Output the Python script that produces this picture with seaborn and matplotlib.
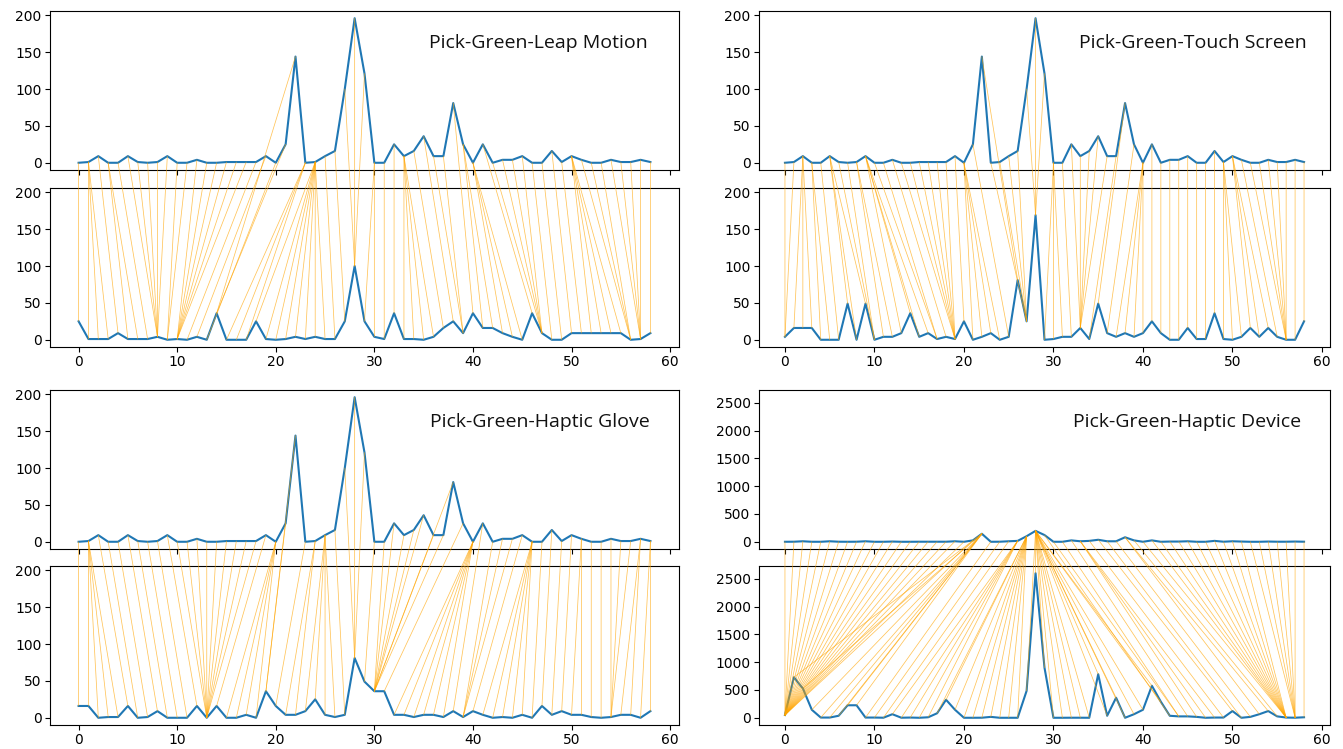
import numpy as np
import matplotlib
matplotlib.use("Agg")
import matplotlib.pyplot as plt
from matplotlib.patches import ConnectionPatch
from matplotlib.ticker import MaxNLocator
import seaborn as sns

# reference series (top of every pair)
reference = [0, 1, 9, 0, 0, 9, 1, 0, 1, 9, 0, 0, 4, 0, 0, 1, 1, 1, 1, 9,
             0, 25, 144, 0, 1, 9, 16, 100, 196, 121, 0, 0, 25, 9, 16, 36, 9, 9, 81, 25,
             0, 25, 0, 4, 4, 9, 0, 0, 16, 1, 9, 4, 0, 0, 4, 1, 1, 4, 1]

leap_motion = [25, 1, 1, 1, 9, 1, 1, 1, 4, 0, 1, 0, 4, 0, 36, 0, 0, 0, 25, 1,
               0, 1, 4, 1, 4, 1, 1, 25, 100, 25, 4, 1, 36, 1, 1, 0, 4, 16, 25, 9,
               36, 16, 16, 9, 4, 0, 36, 9, 0, 0, 9, 9, 9, 9, 9, 9, 0, 1, 9]

touch_screen = [4, 16, 16, 16, 0, 0, 0, 49, 0, 49, 0, 4, 4, 9, 36, 4, 9, 1, 4, 1,
                25, 0, 4, 9, 0, 4, 81, 25, 169, 0, 1, 4, 4, 16, 1, 49, 9, 4, 9, 4,
                9, 25, 9, 0, 0, 16, 1, 1, 36, 1, 0, 4, 16, 4, 16, 4, 0, 0, 25]

haptic_glove = [16, 16, 0, 1, 1, 16, 0, 1, 9, 0, 0, 0, 16, 0, 16, 0, 0, 4, 0, 36,
                16, 4, 4, 9, 25, 4, 1, 4, 81, 49, 36, 36, 4, 4, 1, 4, 4, 1, 9, 1,
                9, 4, 0, 1, 0, 4, 0, 16, 4, 9, 4, 4, 1, 0, 1, 4, 4, 0, 9]

haptic_device = [49, 729, 529, 144, 4, 4, 36, 225, 225, 4, 4, 1, 64, 1, 4, 0, 9, 81, 324, 144,
                 0, 0, 1, 16, 0, 0, 0, 484, 2601, 900, 0, 0, 1, 1, 0, 784, 36, 361, 0, 64,
                 144, 576, 289, 36, 25, 25, 16, 0, 4, 4, 121, 0, 16, 64, 121, 25, 4, 1, 9]

titles = ["Pick-Green-Leap Motion", "Pick-Green-Touch Screen",
          "Pick-Green-Haptic Glove", "Pick-Green-Haptic Device"]
queries = [leap_motion, touch_screen, haptic_glove, haptic_device]


def warping_path(s1, s2):
    s1 = np.asarray(s1, float)
    s2 = np.asarray(s2, float)
    n, m = len(s1), len(s2)
    D = np.full((n + 1, m + 1), np.inf)
    D[0, 0] = 0.0
    for i in range(n):
        for j in range(m):
            d = (s1[i] - s2[j]) ** 2
            D[i + 1, j + 1] = d + min(D[i, j], D[i, j + 1], D[i + 1, j])
    D = np.sqrt(D)
    i, j = n, m
    p = [(i - 1, j - 1)]
    while i > 0 and j > 0:
        c = int(np.argmin([D[i - 1, j - 1], D[i - 1, j], D[i, j - 1]]))
        if c == 0:
            i, j = i - 1, j - 1
        elif c == 1:
            i = i - 1
        else:
            j = j - 1
        p.append((i - 1, j - 1))
    p.pop()
    p.reverse()
    return p


W, H = 1343, 749
fig = plt.figure(figsize=(W / 100, H / 100), dpi=100)

cols = [(50, 679), (759, 1330)]
rows = [((11, 170), (188, 347)), ((390, 549), (566, 725))]
title_x = [0.951, 0.96, 0.954, 0.949]


def rect(xl, xr, yt, yb):
    return [xl / W, (H - yb) / H, (xr - xl) / W, (yb - yt) / H]


for k in range(4):
    r, c = divmod(k, 2)
    xl, xr = cols[c]
    (t1, b1), (t2, b2) = rows[r]
    ax1 = fig.add_axes(rect(xl, xr, t1, b1))
    ax2 = fig.add_axes(rect(xl, xr, t2, b2), sharex=ax1, sharey=ax1)
    s1 = reference
    s2 = queries[k]
    sns.lineplot(x=np.arange(len(s1)), y=s1, ax=ax1, color="#1f77b4", lw=1.5)
    sns.lineplot(x=np.arange(len(s2)), y=s2, ax=ax2, color="#1f77b4", lw=1.5)
    for ax in (ax1, ax2):
        ax.set_xlabel("")
        ax.set_ylabel("")
        ax.tick_params(labelsize=10, pad=2.5)
        ax.yaxis.set_major_locator(MaxNLocator(nbins=6, steps=[1, 2, 2.5, 5, 10]))
    ax1.tick_params(labelbottom=False)
    ax1.text(title_x[k], 0.80, titles[k], transform=ax1.transAxes, ha="right",
             va="center", fontsize=14, family=["Open Sans", "DejaVu Sans"],
             color="#111111")
    for a, b in warping_path(s1, s2):
        if a < 0 or b < 0:
            continue
        con = ConnectionPatch(xyA=(a, s1[a]), coordsA=ax1.transData,
                              xyB=(b, s2[b]), coordsB=ax2.transData,
                              linewidth=0.55, color="orange", alpha=0.65)
        fig.add_artist(con)

fig.savefig("out.png", dpi=100)
